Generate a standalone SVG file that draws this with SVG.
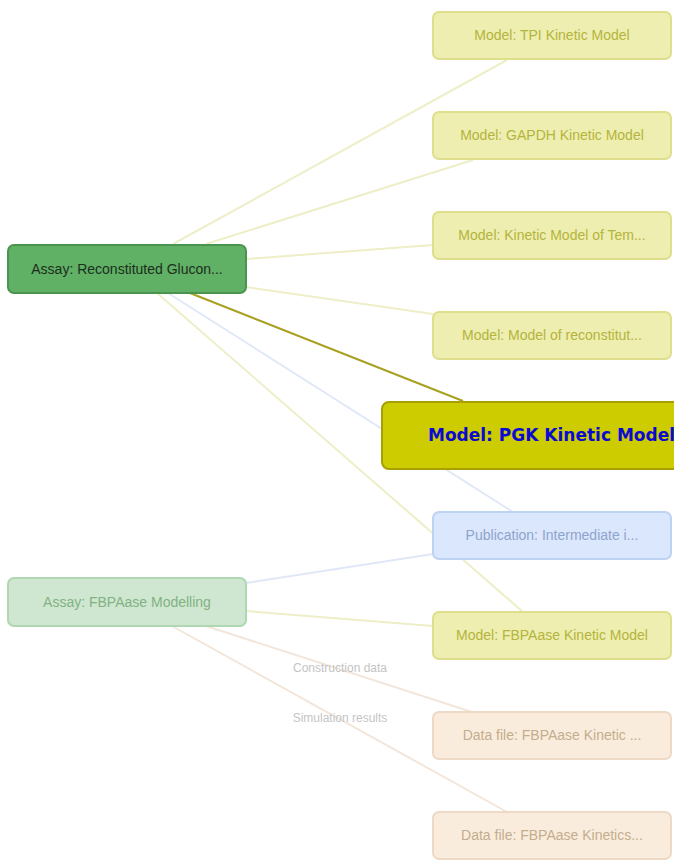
<svg xmlns="http://www.w3.org/2000/svg" width="674" height="864" viewBox="0 0 674 864">
<style>
  .t { font-family: "Liberation Sans", Arial, sans-serif; font-size: 14px; text-anchor: middle; }
  .model rect { fill: #eeeeb0; stroke: #dede8c; stroke-width: 2; }
  .model text { fill: #b4b43c; }
  .pub rect { fill: #dbe7fc; stroke: #bed2f2; stroke-width: 2; }
  .pub text { fill: #8ea4cc; }
  .data rect { fill: #faecdc; stroke: #eedac4; stroke-width: 2; }
  .data text { fill: #c4ac8e; }
  .lbl { font-family: "Liberation Sans", Arial, sans-serif; font-size: 12px; fill: #c4c4c4; text-anchor: middle; }
  .edges line { fill: none; stroke-width: 2; }
</style>
<rect width="674" height="864" fill="#ffffff"/>
<g id="connectors" class="edges">
  <line x1="173" y1="244" x2="507" y2="60" stroke="#eeeec8"/>
  <line x1="206" y1="244" x2="473" y2="160" stroke="#eeeec8"/>
  <line x1="246" y1="259" x2="433" y2="245" stroke="#eeeec8"/>
  <line x1="246" y1="287" x2="433" y2="314" stroke="#eeeec8"/>
  <line x1="168" y1="293" x2="513" y2="512" stroke="#e0e8f8"/>
  <line x1="157" y1="293" x2="523" y2="612" stroke="#eeeec8"/>
  <line x1="190" y1="293" x2="463" y2="401" stroke="#a8a020"/>
  <line x1="246" y1="583" x2="433" y2="554" stroke="#e0e8f8"/>
  <line x1="246" y1="611" x2="433" y2="626" stroke="#eeeec8"/>
  <line x1="206" y1="626" x2="472" y2="712" stroke="#f2e6da"/>
  <line x1="172" y1="626" x2="507" y2="812" stroke="#f2e6da"/>
  <text class="lbl" x="340" y="672">Construction data</text>
  <text class="lbl" x="340" y="722">Simulation results</text>
</g>
<g id="assay-reconstituted">
  <rect x="8" y="245" width="238" height="48" rx="6" fill="#60b065" stroke="#4a9450" stroke-width="2"/>
  <text class="t" x="127" y="274" fill="#1c2e1c">Assay: Reconstituted Glucon...</text>
</g>
<g id="assay-fbpaase">
  <rect x="8" y="578" width="238" height="48" rx="6" fill="#cfe6d0" stroke="#b0d6b2" stroke-width="2"/>
  <text class="t" x="127" y="607" fill="#82b284">Assay: FBPAase Modelling</text>
</g>
<g id="model-tpi" class="model">
  <rect x="433" y="12" width="238" height="47" rx="6"/>
  <text class="t" x="552" y="40">Model: TPI Kinetic Model</text>
</g>
<g id="model-gapdh" class="model">
  <rect x="433" y="112" width="238" height="47" rx="6"/>
  <text class="t" x="552" y="140">Model: GAPDH Kinetic Model</text>
</g>
<g id="model-tem" class="model">
  <rect x="433" y="212" width="238" height="47" rx="6"/>
  <text class="t" x="552" y="240">Model: Kinetic Model of Tem...</text>
</g>
<g id="model-reconstitut" class="model">
  <rect x="433" y="312" width="238" height="47" rx="6"/>
  <text class="t" x="552" y="340">Model: Model of reconstitut...</text>
</g>
<g id="model-pgk">
  <rect x="382" y="402" width="340" height="67" rx="7" fill="#cccc00" stroke="#a8a000" stroke-width="2"/>
  <text x="428" y="441" font-family="'DejaVu Sans', Verdana, sans-serif" font-size="17" font-weight="bold" fill="#0a0ad0">Model: PGK Kinetic Model</text>
</g>
<g id="publication" class="pub">
  <rect x="433" y="512" width="238" height="47" rx="6"/>
  <text class="t" x="552" y="540">Publication: Intermediate i...</text>
</g>
<g id="model-fbpaase" class="model">
  <rect x="433" y="612" width="238" height="47" rx="6"/>
  <text class="t" x="552" y="640">Model: FBPAase Kinetic Model</text>
</g>
<g id="data-file-1" class="data">
  <rect x="433" y="712" width="238" height="47" rx="6"/>
  <text class="t" x="552" y="740">Data file: FBPAase Kinetic ...</text>
</g>
<g id="data-file-2" class="data">
  <rect x="433" y="812" width="238" height="47" rx="6"/>
  <text class="t" x="552" y="840">Data file: FBPAase Kinetics...</text>
</g>
</svg>
